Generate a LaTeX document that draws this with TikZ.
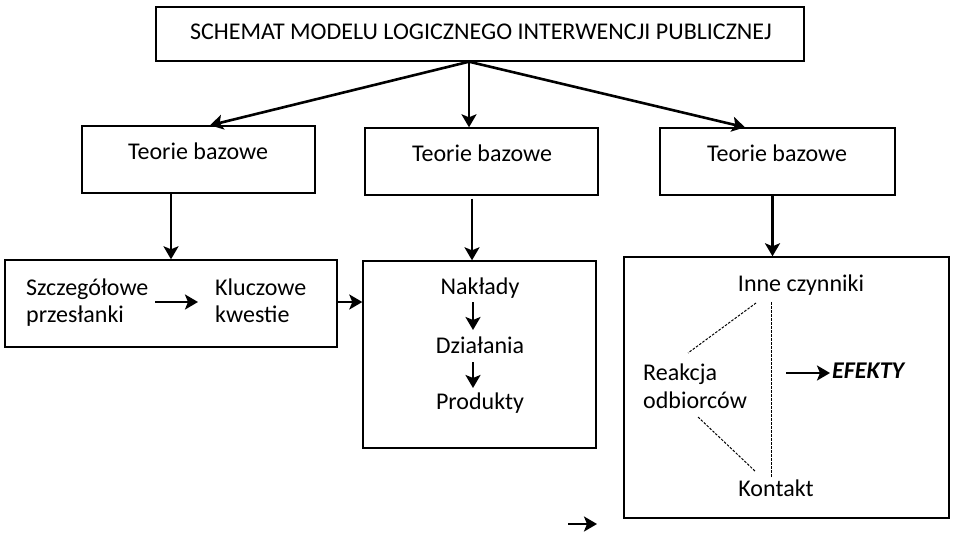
\documentclass[tikz,border=0pt]{standalone}
\usepackage{fontspec}
\setmainfont{Carlito}
\usetikzlibrary{arrows.meta}
\begin{document}
\begin{tikzpicture}[x=1pt,y=-1pt,
  box/.style={draw=black,line width=1.4pt,rectangle,inner sep=0pt},
  txt/.style={inner sep=0pt,font=\fontsize{24}{28}\selectfont},
  arr/.style={line width=2.6pt,-{Stealth[length=13pt,width=15pt,inset=3pt]}},
  dsh/.style={line width=1pt,dash pattern=on 2.5pt off 1.5pt}]
\useasboundingbox (0,0) rectangle (953,533);
% title
\node[box,minimum width=648pt,minimum height=54pt] (title) at (480,34) {};
\node[txt,anchor=base] (tt) at (481,39) {SCHEMAT MODELU LOGICZNEGO INTERWENCJI PUBLICZNEJ};
% theory boxes
\node[box,minimum width=233pt,minimum height=67pt] (t1) at (198.5,159.5) {};
\node[box,minimum width=233pt,minimum height=67pt] (t2) at (481.5,161.5) {};
\node[box,minimum width=235pt,minimum height=67pt] (t3) at (777.5,161.5) {};
\node[txt,anchor=base] (t1x) at (198,159) {Teorie bazowe};
\node[txt,anchor=base] (t2x) at (482,161) {Teorie bazowe};
\node[txt,anchor=base] (t3x) at (777,161) {Teorie bazowe};
\coordinate (o) at ([xshift=-11pt]title.south);
\draw[arr] (o) -- ([xshift=11.5pt]t1.north);
\draw[arr] (o) -- ([xshift=-12.5pt]t2.north);
\draw[arr] (o) -- ([xshift=-32.5pt]t3.north);
% lower boxes
\node[box,minimum width=332pt,minimum height=87pt] (b1) at (171,303.5) {};
\node[box,minimum width=233pt,minimum height=187pt] (b2) at (479.5,354.5) {};
\node[box,minimum width=325pt,minimum height=261pt] (b3) at (786.5,387.5) {};
\draw[arr] (t1.south -| b1.north) -- (b1.north);
\draw[arr] ([xshift=-7.5pt,yshift=-3pt]b2.north |- t2.south) -- ([xshift=-7.5pt]b2.north);
\draw[arr] ([xshift=-14pt]b3.north |- t3.south) -- ([xshift=-14pt]b3.north);
% box 1 content
\node[txt,anchor=base west] (sz1) at (26,295) {Szczegółowe};
\node[txt,anchor=base west] (sz2) at (26,322) {przesłanki};
\node[txt,anchor=base west] (kl1) at (215,295) {Kluczowe};
\node[txt,anchor=base west] (kl2) at (215,322) {kwestie};
\coordinate (a1) at (155,302);
\coordinate (a2) at (198,302);
\draw[arr] (a1) -- (a2);
\draw[arr] (b1.east |- a1) -- (b2.west |- a1);
% box 2 content
\node[txt,anchor=base] (nak) at (480,294) {Nakłady};
\node[txt,anchor=base] (dzi) at (480,353) {Działania};
\node[txt,anchor=base] (pro) at (480,409) {Produkty};
\draw[arr] ([xshift=-7pt,yshift=-8pt]nak.base) -- ([xshift=-7pt,yshift=23pt]dzi.base);
\draw[arr] ([xshift=-7pt,yshift=-9pt]dzi.base) -- ([xshift=-7pt,yshift=21pt]pro.base);
% box 3 content
\node[txt,anchor=base] (inne) at (801,291) {Inne czynniki};
\node[txt,anchor=base west] (re1) at (643,380) {Reakcja};
\node[txt,anchor=base west] (re2) at (643,408) {odbiorców};
\node[txt,anchor=base] (kon) at (776,496) {Kontakt};
\node[txt,anchor=base west,font=\fontsize{24}{28}\selectfont\bfseries\itshape] (ef) at (832,378) {EFEKTY};
\draw[arr] ([xshift=-46pt,yshift=5pt]ef.base west) -- ([xshift=-2pt,yshift=5pt]ef.base west);
\draw[dsh] ([xshift=-30pt,yshift=-11pt]inne.base) -- ([xshift=-5pt,yshift=19pt]kon.base);
\draw[dsh] ([xshift=-45pt,yshift=-12pt]inne.base) -- ([xshift=45pt,yshift=27pt]re1.base west);
\draw[dsh] ([xshift=55pt,yshift=-9pt]re2.base west) -- ([xshift=-20pt,yshift=24pt]kon.base);
% stray arrow
\coordinate (s1) at (568,524);
\coordinate (s2) at (597,524);
\draw[arr] (s1) -- (s2);
\end{tikzpicture}
\end{document}
